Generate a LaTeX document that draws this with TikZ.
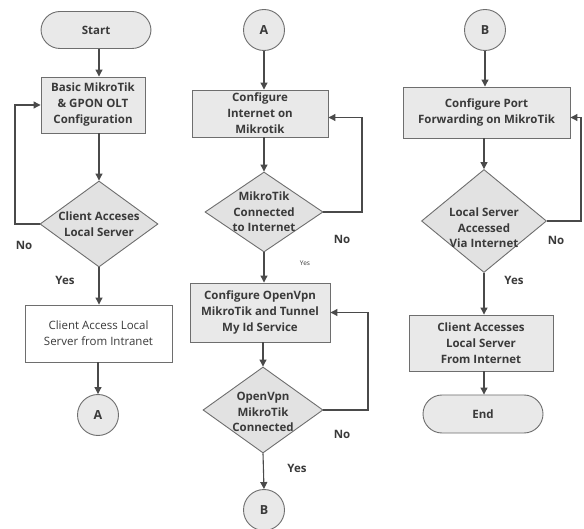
\documentclass[tikz,border=0pt]{standalone}
\usepackage{fontspec}
\setmainfont{Open Sans}
\usetikzlibrary{shapes.geometric,arrows.meta}
\definecolor{edge}{HTML}{6E6E6E}
\definecolor{arrowc}{HTML}{4A4A4A}
\definecolor{boxfill}{HTML}{E9E9E9}
\definecolor{decfill}{HTML}{E2E2E2}
\definecolor{txt}{HTML}{3A3A3A}
\tikzset{
  base/.style={draw=edge, line width=0.9pt, text=txt, font=\fontsize{11.5}{16}\selectfont\bfseries, align=center, inner sep=0pt},
  term/.style={base, rounded corners=19pt, fill=boxfill},
  procbox/.style={base, fill=boxfill, rectangle},
  whitebox/.style={base, fill=white, rectangle, font=\fontsize{11.5}{16}\selectfont},
  conn/.style={base, circle, fill=boxfill, minimum size=41pt, font=\fontsize{12.5}{15}\selectfont\bfseries},
  dec/.style={draw=edge, line width=0.9pt, fill=decfill, diamond, inner sep=0pt},
  dectext/.style={text=txt, font=\fontsize{11.5}{15.5}\selectfont\bfseries, align=center, inner sep=0pt},
  arr/.style={draw=arrowc, line width=1.1pt, -{Triangle[length=7pt,width=7pt]}},
  lbl/.style={text=txt, font=\fontsize{11.5}{13}\selectfont\bfseries, inner sep=0pt},
}
\begin{document}
\begin{tikzpicture}[x=1pt,y=-1pt]
\useasboundingbox (0,0) rectangle (584,529);
\fill[white] (0,0) rectangle (584,529);
% ---------- column 1 ----------
\node[term, minimum width=110pt, minimum height=37pt] (start) at (96,30) {Start};
\node[procbox, minimum width=104pt, minimum height=56pt] (b1) at (93,105) {Basic MikroTik\\\& GPON OLT\\Configuration};
\node[dec, minimum width=118pt, minimum height=86pt,
  label={[dectext]center:Client Acceses\\Local Server}] (d1) at (99,224) {};
\node[whitebox, minimum width=147pt, minimum height=57pt] (w1) at (98.5,333.5) {Client Access Local\\Server from Intranet};
\node[conn] (ca1) at (98,415) {A};
\draw[arr] (start.south -| 99,0) -- (99,0 |- b1.north);
\draw[arr] (99,0 |- b1.south) -- (d1.north);
\draw[arr] (d1.west) -- (15,224) |- (b1.west);
\draw[arr] (d1.south) -- (d1.south |- w1.north);
\draw[arr] (w1.south -| ca1) -- (ca1.north);
\node[lbl] (no1) at (24,245) {No};
\node[lbl] (yes1) at (65,280) {Yes};
% ---------- column 2 ----------
\node[conn] (ca2) at (264,30) {A};
\node[procbox, minimum width=136pt, minimum height=47pt] (b2) at (260,113.5) {Configure\\Internet on\\Mikrotik};
\node[dec, minimum width=118pt, minimum height=80pt,
  label={[dectext]center:MikroTik\\Connected\\to Internet}] (d2) at (264,212) {};
\node[procbox, minimum width=140pt, minimum height=59pt] (b3) at (260,312.5) {Configure OpenVpn\\MikroTik and Tunnel\\My Id Service};
\node[dec, minimum width=120pt, minimum height=86pt,
  label={[dectext, yshift=-2pt]center:OpenVpn\\MikroTik\\Connected}] (d3) at (263,410) {};
\node[conn] (cb1) at (264,510) {B};
\draw[arr] (ca2.south) -- (ca2.south |- b2.north);
\draw[arr] (d2.north |- b2.south) -- (d2.north);
\draw[arr] (d2.east) -- (362,212) |- ([yshift=-4pt]b2.east);
\draw[arr] (d2.south) -- (d2.south |- b3.north);
\draw[arr] (d3.north |- b3.south) -- (d3.north);
\draw[arr] (d3.east) -- (368,410) |- (b3.east);
\draw[arr] (d3.south) -- (cb1.north);
\node[lbl] (no2) at (342,239) {No};
\node[text=txt, font=\fontsize{6.5}{7}\selectfont, inner sep=0pt] (yes2) at (305,263) {Yes};
\node[lbl] (no3) at (342,434) {No};
\node[lbl] (yes3) at (297,468) {Yes};
% ---------- column 3 ----------
\node[conn] (cb2) at (485,30) {B};
\node[procbox, minimum width=167pt, minimum height=51pt] (b4) at (486.5,112.5) {Configure Port\\Forwarding on MikroTik};
\node[dec, minimum width=125pt, minimum height=103pt,
  label={[dectext, yshift=-7pt]center:Local Server\\Accessed\\Via Internet}] (d4) at (484,221) {};
\node[procbox, minimum width=144pt, minimum height=56pt] (b5) at (481,343) {Client Accesses\\Local Server\\From Internet};
\node[term, minimum width=120pt, minimum height=38pt] (endn) at (483,414) {End};
\draw[arr] (cb2.south) -- (cb2.south |- b4.north);
\draw[arr] (d4.north |- b4.south) -- (d4.north);
\draw[arr] (d4.east) -- (581,221) |- ([yshift=-5pt]b4.east);
\draw[arr] (d4.south) -- (d4.south |- b5.north);
\draw[arr] (d4.south |- b5.south) -- (d4.south |- endn.north);
\node[lbl] (no4) at (556,240) {No};
\node[lbl] (yes4) at (514,280) {Yes};
\end{tikzpicture}
\end{document}
